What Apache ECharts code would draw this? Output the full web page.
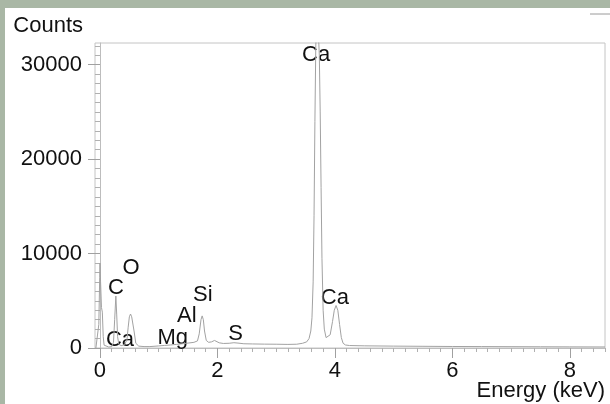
<!DOCTYPE html>
<html>
<head>
<meta charset="utf-8">
<script src="https://cdn.jsdelivr.net/npm/echarts@6/dist/echarts.min.js"></script>
<style>html,body{margin:0;padding:0;background:#a9b7a5;}#c{width:610px;height:404px;}</style>
</head>
<body>
<div id="c"></div>
<script>
// Spectrum (energy in keV, counts)
const energy = [-0.07,-0.04,-0.02,-0.005,0.0,0.01,0.025,0.04,0.055,0.07,0.10,0.15,0.20,0.23,0.25,0.27,0.285,0.30,0.32,0.36,0.42,0.46,0.48,0.50,0.52,0.54,0.56,0.58,0.61,0.66,0.75,0.85,1.0,1.1,1.2,1.3,1.4,1.5,1.6,1.66,1.69,1.72,1.74,1.76,1.78,1.81,1.85,1.9,1.95,1.98,2.03,2.1,2.2,2.28,2.35,2.45,2.6,2.8,3.0,3.2,3.35,3.45,3.52,3.56,3.59,3.61,3.63,3.645,3.66,3.675,3.69,3.715,3.735,3.75,3.765,3.78,3.80,3.82,3.85,3.88,3.92,3.96,3.99,4.02,4.05,4.08,4.11,4.14,4.18,4.25,4.5,5.0,5.5,6.0,6.5,7.0,7.5,8.0,8.6];
const counts = [0,150,2500,7500,9000,7000,4300,3800,1200,300,120,100,150,600,3000,5500,3500,1200,400,250,350,900,2200,3300,3600,3300,3500,1800,500,200,150,150,220,270,320,380,450,520,600,750,1500,3000,3400,3000,1800,800,600,650,800,750,550,480,500,560,520,450,430,410,400,380,400,500,650,1000,1800,3200,7000,14000,24000,32000,34500,34000,31000,25000,17000,9500,4000,2000,1100,900,1400,2800,4000,4500,4000,2500,1100,500,320,260,230,200,180,160,150,140,130,120,110];

// Peak annotations
const elementNames = ['Ca','Ca','O','C','Ca','Mg','Al','Si','S'];
const labelEnergy = [3.68,4.0,0.53,0.27,0.34,1.24,1.48,1.75,2.31];
const labelCounts = [31040,5300,8470,6360,850,1060,3390,5610,1480];

// Axis ticks and titles
const xMajorTicks = [0,2,4,6,8];
const yMajorTicks = [0,10000,20000,30000];
const xRange = [-0.085, 8.6];
const yRange = [0, 32300];
const xTitle = 'Energy (keV)';
const yTitle = 'Counts';

const xMinorTicks = [];
for (let i = 0; i <= 43; i++) { const v = Math.round(i*0.2*10)/10; if (v % 2 !== 0) xMinorTicks.push(v); }
const yMinorTicks = [];
for (let i = 1; i <= 32; i++) { if (i % 10 !== 0) yMinorTicks.push(i*1000); }

const FONT = 'Liberation Sans, Arial, sans-serif';
const chart = echarts.init(document.getElementById('c'));
chart.setOption({
  animation: false,
  backgroundColor: '#a9b7a5',
  graphic: [
    {type:'rect', z:-10, shape:{x:5, y:8, width:605, height:396}, style:{fill:'#ffffff'}},
    {type:'line', shape:{x1:590, y1:14, x2:610, y2:14}, style:{stroke:'#9a9a9a', lineWidth:1}},
    {type:'text', right:5, top:380, style:{text:xTitle, fontSize:22, fill:'#111', fontFamily:FONT}}
  ],
  grid: {left:95, right:5, top:43, bottom:56, containLabel:false, outerBoundsMode:'none',
         show:true, borderColor:'#c4c4c4', borderWidth:1, backgroundColor:'#ffffff'},
  xAxis: [
    {type:'value', min:xRange[0], max:xRange[1], position:'bottom',
     axisLine:{show:true, lineStyle:{color:'#bdbdbd', width:1}},
     axisTick:{show:true, customValues:xMajorTicks, length:10, lineStyle:{color:'#a0a0a0'}},
     axisLabel:{customValues:xMajorTicks, margin:12, fontSize:22, color:'#111', fontFamily:FONT,
                formatter:function(v){return String(v);}},
     splitLine:{show:false}},
    {type:'value', min:xRange[0], max:xRange[1], position:'bottom',
     axisLine:{show:false},
     axisTick:{show:true, customValues:xMinorTicks, length:4, lineStyle:{color:'#b0b0b0'}},
     axisLabel:{show:false}, splitLine:{show:false}}
  ],
  yAxis: [
    {type:'value', min:yRange[0], max:yRange[1], position:'left',
     name:yTitle, nameLocation:'end', nameGap:17,
     nameTextStyle:{align:'right', verticalAlign:'middle', padding:[0,17,0,0], fontSize:22, color:'#111', fontFamily:FONT},
     axisLine:{show:true, lineStyle:{color:'#bdbdbd', width:1}},
     axisTick:{show:true, customValues:yMajorTicks, length:12, lineStyle:{color:'#a0a0a0'}},
     axisLabel:{customValues:yMajorTicks, margin:13, fontSize:22, color:'#111', fontFamily:FONT,
                formatter:function(v){return String(v);}},
     splitLine:{show:false}},
    {type:'value', min:yRange[0], max:yRange[1], position:'left',
     axisLine:{show:false},
     axisTick:{show:true, customValues:yMinorTicks, length:5, lineStyle:{color:'#b0b0b0'}},
     axisLabel:{show:false}, splitLine:{show:false}}
  ],
  series: [
    {type:'line', name:'Spectrum', xAxisIndex:0, yAxisIndex:0, showSymbol:false, symbol:'none', clip:true,
     lineStyle:{color:'#a2a2a2', width:1},
     data: energy.map((e,i)=>[e, counts[i]])},
    {type:'scatter', name:'Elements', xAxisIndex:0, yAxisIndex:0, symbolSize:1, clip:false,
     itemStyle:{color:'rgba(0,0,0,0)', opacity:1},
     label:{show:true, position:'inside', formatter:'{b}', fontSize:22, color:'#111', opacity:1,
            textBorderWidth:0, fontFamily:FONT},
     labelLayout:{hideOverlap:false},
     data: elementNames.map((n,i)=>({name:n, value:[labelEnergy[i], labelCounts[i]]}))}
  ]
});
</script>
</body>
</html>
